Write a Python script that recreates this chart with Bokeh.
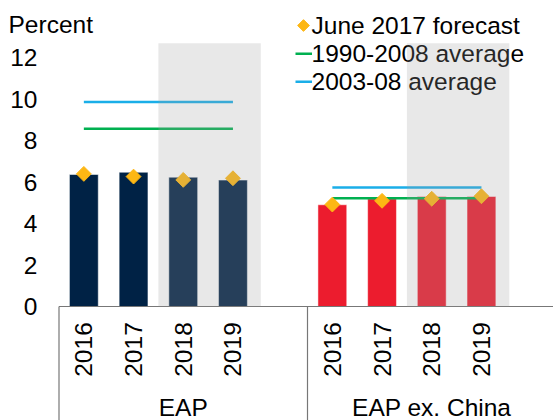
import numpy as np
from bokeh.plotting import figure
from bokeh.models import Range1d, FixedTicker, BoxAnnotation, ColumnDataSource
from bokeh.embed import file_html
from bokeh.resources import INLINE
from bokeh.core.properties import value

# ---------------- data ----------------
groups = ["EAP", "EAP ex. China"]
years = ["2016", "2017", "2018", "2019"]
forecast_years = ["2018", "2019"]
eap_growth = [6.37, 6.48, 6.24, 6.10]
eap_june2017 = [6.40, 6.27, 6.11, 6.19]
exchina_growth = [4.91, 5.20, 5.31, 5.31]
exchina_june2017 = [4.92, 5.10, 5.20, 5.32]
avg_1990_2008 = [8.58, 5.23]
avg_2003_08 = [9.87, 5.74]
y_ticks = [0, 2, 4, 6, 8, 10, 12]
y_axis_title = "Percent"
legend_labels = ["June 2017 forecast", "1990-2008 average", "2003-08 average"]

# ---------------- style / layout ----------------
FONT = "Liberation Sans"
FS = "24.5px"
NAVY = "#002245"
RED = "#ec1c2e"
GOLD = "#fdb714"
GREEN = "#00b050"
BLUE = "#1aaee8"
AXIS_GRAY = "#777777"
SLOTS = 5          # category slots per group (last one empty)
BAR_W = 0.58
SHADE_TOP = 12.7
W, H = 553, 420
PX_X = 49.7        # pixels per category slot
PX_Y = 20.72       # pixels per percentage point
ORIGIN_PX = 58.5   # left edge of category axis (pixels)
ZERO_PY = 306      # y=0 (pixels from top)

X_START = -0.5 - ORIGIN_PX / PX_X
X_END = X_START + W / PX_X
Y_END = ZERO_PY / PX_Y
Y_START = Y_END - H / PX_Y


def px2x(px):
    return X_START + px / PX_X


def py2y(py):
    return Y_END - py / PX_Y


p = figure(width=W, height=H, output_backend="svg", toolbar_location=None,
           x_range=Range1d(X_START, X_END), y_range=Range1d(Y_START, Y_END),
           x_axis_location=None, min_border_left=0, min_border_right=0,
           min_border_top=0, min_border_bottom=0)
p.outline_line_color = None
p.grid.visible = False
p.background_fill_color = "white"
p.border_fill_color = "white"

ya = p.yaxis[0]
ya.ticker = FixedTicker(ticks=y_ticks)
ya.axis_line_color = None
ya.major_tick_line_color = None
ya.minor_tick_line_color = None
ya.major_tick_out = 0
ya.major_tick_in = 0
ya.major_label_standoff = -37
ya.major_label_text_font = FONT
ya.major_label_text_font_size = FS
ya.major_label_text_color = "black"

# positions
xs, tops, fc, cols, labels = [], [], [], [], []
bar_vals = [eap_growth, exchina_growth]
fc_vals = [eap_june2017, exchina_june2017]
for g in range(len(groups)):
    for j, yr in enumerate(years):
        xs.append(g * SLOTS + j)
        tops.append(bar_vals[g][j])
        fc.append(fc_vals[g][j])
        cols.append(NAVY if g == 0 else RED)
        labels.append(yr)

src = ColumnDataSource(dict(x=xs, top=tops, fc=fc, color=cols, label=labels))

p.vbar(x="x", top="top", bottom=0, width=BAR_W, source=src, fill_color="color",
       line_color="white", line_alpha=0.5, line_width=1)

# averages
gx0 = [g * SLOTS for g in range(len(groups))]
gx1 = [g * SLOTS + len(years) - 1 for g in range(len(groups))]
p.segment(x0=gx0, x1=gx1, y0=avg_1990_2008, y1=avg_1990_2008,
          line_color=GREEN, line_width=2.5)
p.segment(x0=gx0, x1=gx1, y0=avg_2003_08, y1=avg_2003_08,
          line_color=BLUE, line_width=2.5)

# June 2017 forecast diamonds
p.scatter(x="x", y="fc", source=src, marker="square", angle=np.pi / 4,
          size=10.5, fill_color=GOLD, line_color=GOLD)

# category axis drawn in frame
p.segment(x0=[-0.5], x1=[X_END], y0=[0], y1=[0], line_color=AXIS_GRAY, line_width=1.2)
sep_x = [g * SLOTS - 0.5 for g in range(len(groups))]
p.segment(x0=sep_x, x1=sep_x, y0=[0] * len(sep_x), y1=[Y_START] * len(sep_x),
          line_color=AXIS_GRAY, line_width=1.2)
p.text(x="x", y=py2y(349), text="label", source=src, angle=np.pi / 2,
       text_align="center", text_baseline="middle", text_font=value(FONT),
       text_font_size=FS, text_color="black")
gcx = [g * SLOTS + (SLOTS - 1) / 2 for g in range(len(groups))]
p.text(x=gcx, y=[py2y(407)] * len(groups), text=groups, text_align="center",
       text_baseline="middle", text_font=value(FONT), text_font_size=FS,
       text_color="black")

# axis title
p.text(x=[px2x(8)], y=[py2y(23.5)], text=[y_axis_title], text_align="left",
       text_baseline="middle", text_font=value(FONT), text_font_size=FS,
       text_color="black")

# legend (drawn as glyphs so the forecast shading lies over it, as in the original)
row_y = [py2y(25), py2y(53.3), py2y(81.3)]
p.scatter(x=[px2x(303)], y=[row_y[0]], marker="square", angle=np.pi / 4,
          size=8.3, fill_color=GOLD, line_color=GOLD)
p.segment(x0=[px2x(295)], x1=[px2x(311.5)], y0=[row_y[1]], y1=[row_y[1]],
          line_color=GREEN, line_width=2.5)
p.segment(x0=[px2x(295)], x1=[px2x(311.5)], y0=[row_y[2]], y1=[row_y[2]],
          line_color=BLUE, line_width=2.5)
p.text(x=[px2x(311)] * 3, y=row_y, text=legend_labels, text_align="left",
       text_baseline="middle", text_font=value(FONT), text_font_size=FS,
       text_color="black")

# forecast shading on top
for g in range(len(groups)):
    left = g * SLOTS + years.index(forecast_years[0]) - 0.5
    right = g * SLOTS + years.index(forecast_years[-1]) + 0.56
    p.add_layout(BoxAnnotation(left=left, right=right, bottom=0, top=SHADE_TOP,
                               fill_color="#a0a0a0", fill_alpha=0.24,
                               line_color=None))

open("out.html", "w").write(file_html(p, INLINE))
